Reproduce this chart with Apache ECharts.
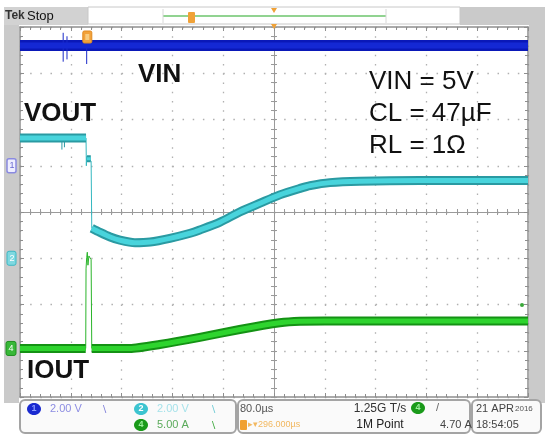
<!DOCTYPE html>
<html><head><meta charset="utf-8">
<script src="https://cdn.jsdelivr.net/npm/echarts@6/dist/echarts.min.js"></script>
<style>html,body{margin:0;padding:0;background:#fff}#c{width:545px;height:436px}</style>
</head><body><div id="c"></div>
<script>
// Channel settings: units per division and ground position (divisions from screen centre)
const CH1 = {scale: 2, pos: 1.0};    // VIN, 2 V/div
const CH2 = {scale: 2, pos: -1.0};   // VOUT, 2 V/div
const CH4 = {scale: 5, pos: -2.95};  // IOUT, 5 A/div
const timeMax = 800;                 // µs across 10 divisions
const timePerDiv = 80;
const triggerTime = 106;             // µs from left edge of screen
const triggerLevel = 4.7;            // A

// VIN (time µs, volts)
const vinTrace = [[0, 5.2], [800, 5.2]];
const vinSpikes = [[68, 5.75, 4.5], [74, 5.6, 4.6], [105, 5.3, 4.4]];  // [t, high, low]

// VOUT (time µs, volts)
const voutBefore = [[0, 5.2], [104, 5.2]];
const voutSpikes = [[66, 5.2, 4.7], [70, 5.2, 4.8]];
const voutBlip = [[105.5, 4.3], [111.5, 4.3]];
const voutEdge = [[104, 5.2], [104.5, 4.0], [105, 4.4], [112, 4.2], [113, 1.3]];
const voutAfter = [[113, 1.3], [126, 1.12], [142, 0.92], [157.5, 0.78], [181, 0.67], [205, 0.70],
  [236, 0.86], [268, 1.08], [283, 1.22], [315, 1.56], [346, 2.0], [378, 2.38], [409, 2.74],
  [441, 3.02], [457, 3.14], [488, 3.27], [535, 3.33], [630, 3.36], [800, 3.36]];

// IOUT (time µs, amps)
const ioutBefore = [[0, 0], [103.5, 0]];
const ioutSpike = [[103.5, 0], [104, 8.6], [105, 9.8], [106, 10.4], [107, 9.0], [108.5, 10.0], [112, 9.6], [113, 0]];
const ioutAfter = [[113, 0], [173, 0], [220, 0.43], [283, 1.19], [346, 2.05], [409, 2.78], [441, 2.95], [480, 2.97], [800, 2.97]];

// Text labels
const traceNames = ['VIN', 'VOUT', 'IOUT'];
const conditions = ['VIN = 5V', 'CL = 47µF', 'RL = 1Ω'];
const statusCh = ['2.00 V', '2.00 V', '5.00 A'];
const statusTime = ['80.0µs', '296.000µs'];
const statusRate = ['1.25G T/s', '1M Point'];
const statusTrig = ['/', '4.70 A'];
const statusDate = ['21 APR', '2016', '18:54:05'];

const toDiv = (pairs, ch) => pairs.map(([t, v]) => [t, v === '-' ? '-' : ch.pos + v / ch.scale]);
const spikesToPath = (list) => {
  const out = [];
  list.forEach(([t, hi, lo]) => { out.push([t, hi], [t, lo], [t, '-']); });
  return out;
};

const chart = echarts.init(document.getElementById('c'), null, {renderer: 'canvas'});
const GRID = {left: 20, top: 27, width: 508, height: 370};
const frameColor = '#8e8e8e';
const axisOff = {show: false};

function borderAxis(dim, position) {
  const isX = dim === 'x';
  return {
    gridIndex: 0, type: 'value', position,
    min: isX ? 0 : -4, max: isX ? timeMax : 4, interval: isX ? timePerDiv : 1,
    axisLine: {show: true, onZero: false, lineStyle: {color: frameColor, width: 1.5}},
    axisTick: {show: true, inside: true, length: 4, lineStyle: {color: frameColor}},
    minorTick: {show: true, splitNumber: 5, length: 3, lineStyle: {color: frameColor}},
    axisLabel: axisOff, splitLine: {show: false}
  };
}
function centreAxis(dim, gridIndex, inside) {
  const isX = dim === 'x';
  return {
    gridIndex, type: 'value', min: isX ? -5 : -4, max: isX ? 5 : 4, interval: 1,
    axisLine: {show: true, onZero: true, lineStyle: {color: '#9a9a9a', width: 1}},
    axisTick: {show: true, inside, length: 3, lineStyle: {color: '#9a9a9a'}},
    minorTick: {show: true, splitNumber: 5, length: 3, lineStyle: {color: '#9a9a9a'}},
    axisLabel: axisOff, splitLine: {show: false}
  };
}

const xBottom = borderAxis('x', 'bottom');
xBottom.splitLine = {show: true, lineStyle: {color: '#b0b0b0', width: 1.3, type: [1.5, 7.75]}};
const yLeft = borderAxis('y', 'left');
yLeft.splitLine = {show: true, lineStyle: {color: '#b0b0b0', width: 1.3, type: [1.5, 8.66]}};

function band(data, under, over, wUnder, wOver, z, smooth) {
  const common = {type: 'line', data, xAxisIndex: 0, yAxisIndex: 0, symbol: 'none', smooth: smooth || false, silent: true};
  return [
    Object.assign({}, common, {lineStyle: {color: under, width: wUnder, cap: 'butt', join: 'round'}, z}),
    Object.assign({}, common, {lineStyle: {color: over, width: wOver, cap: 'butt', join: 'round'}, z: z + 0.1})
  ];
}
function thin(data, color, z) {
  return {type: 'line', data, xAxisIndex: 0, yAxisIndex: 0, symbol: 'none', connectNulls: false,
    lineStyle: {color, width: 1}, z, silent: true};
}

const series = [
  ...band(toDiv(vinTrace, CH1), '#0a18b8', '#1428d4', 11, 6, 3),
  thin(toDiv(spikesToPath(vinSpikes), CH1), '#1a2ac8', 3),
  thin(toDiv(spikesToPath(voutSpikes), CH2), '#2a9ca4', 4),
  thin(toDiv(voutEdge, CH2), '#35b8c0', 4),
  ...band(toDiv(voutBefore, CH2), '#2a9aa2', '#48d4dc', 9, 5, 4),
  ...band(toDiv(voutBlip, CH2), '#2a9aa2', '#48d4dc', 7, 3, 4),
  ...band(toDiv(voutAfter, CH2), '#2a9aa2', '#48d4dc', 9, 5, 4, 0.25),
  thin(toDiv(ioutSpike, CH4), '#2bb52b', 5),
  ...band(toDiv(ioutBefore, CH4), '#149214', '#2ed42e', 9, 5, 5),
  ...band(toDiv(ioutAfter, CH4), '#149214', '#2ed42e', 9, 5, 5, 0.2)
];

chart.setOption({
  animation: false,
  backgroundColor: '#ffffff',
  grid: [GRID, GRID, GRID],
  xAxis: [xBottom, borderAxis('x', 'top'), centreAxis('x', 1, true), centreAxis('x', 2, false)],
  yAxis: [yLeft, borderAxis('y', 'right'), centreAxis('y', 1, true), centreAxis('y', 2, false)],
  series
});

// Decorations of the scope screen, placed from the data coordinate system where they mark a value
const px = (t, d) => chart.convertToPixel({xAxisIndex: 0, yAxisIndex: 0}, [t, d]);
const FONT = '"Liberation Sans", Arial, sans-serif';
const NARROW = '"Liberation Sans Narrow", "Liberation Sans", Arial, sans-serif';
const g = [];
const rect = (x, y, w, h, fill, stroke, lw, r, z) => g.push({type: 'rect', shape: {x, y, width: w, height: h, r: r || 0},
  style: {fill, stroke: stroke || null, lineWidth: lw || 0}, z: z == null ? -1 : z, silent: true});
const text = (x, y, s, size, color, opts) => g.push({type: 'text', x, y, z: 50, silent: true,
  style: Object.assign({text: s, fontSize: size, fill: color, fontFamily: FONT, verticalAlign: 'middle', align: 'left'}, opts || {})});

// side and top panels
rect(4, 25, 15, 378, '#cacaca');
rect(529, 8, 16, 395, '#cacaca');
rect(4, 7, 84, 18, '#d2d2d2');
rect(460, 7, 85, 18, '#cacaca');
rect(88, 7, 372, 17, '#ffffff', '#c8c8c8', 1, 0, 0);
g.push({type: 'line', shape: {x1: 163, y1: 16, x2: 386, y2: 16}, style: {stroke: '#6cc46c', lineWidth: 1.5}, z: 1});
g.push({type: 'line', shape: {x1: 163, y1: 9, x2: 163, y2: 23}, style: {stroke: '#d8d8d8', lineWidth: 1}, z: 1});
g.push({type: 'line', shape: {x1: 386, y1: 9, x2: 386, y2: 23}, style: {stroke: '#d8d8d8', lineWidth: 1}, z: 1});
rect(188, 12, 7, 11, '#f0a238', null, 0, 1, 2);
text(5, 16, 'Tek', 12, '#333', {fontWeight: 'bold', fontFamily: NARROW});
text(27, 16, 'Stop', 13, '#111');

// time reference markers
const cx = px(400, 0)[0];
g.push({type: 'polygon', shape: {points: [[cx - 3, 8], [cx + 3, 8], [cx, 13]]}, style: {fill: '#f0a238'}, z: 3});
g.push({type: 'polygon', shape: {points: [[cx - 3, 24], [cx + 3, 24], [cx, 29]]}, style: {fill: '#f0a238'}, z: 3});
const tx = px(triggerTime, 0)[0];
rect(tx - 4.5, 31, 9, 12, '#f2a23a', '#e08a20', 1, 1.5, 20);
rect(tx - 2, 34, 4, 6, '#f8cc80', null, 0, 0, 21);

// channel ground markers
const m1 = px(0, CH1.pos)[1], m2 = px(0, CH2.pos)[1], m4 = px(0, CH4.pos)[1];
rect(7, m1 - 7, 9, 14, '#eeeeff', '#8a8ae0', 1.5, 2, 5);
text(9.5, m1, '1', 9, '#6a6ad0');
rect(7, m2 - 7, 9, 14, '#7fd8e0', '#3cb8c4', 1, 2, 5);
text(9.5, m2, '2', 9, '#ffffff');
rect(6, m4 - 7, 10, 14, '#38b838', '#1e8e1e', 1, 2, 5);
text(8.5, m4, '4', 9, '#ffffff');
// trigger level marker (CH4)
const tl = px(800, CH4.pos + triggerLevel / CH4.scale);
g.push({type: 'circle', shape: {cx: tl[0] - 6, cy: tl[1], r: 2}, style: {fill: '#3aa83a'}, z: 20});

// trace names and test conditions
text(138, 75, traceNames[0], 26, '#111', {fontWeight: 'bold'});
text(24, 114, traceNames[1], 26, '#111', {fontWeight: 'bold'});
text(27, 371, traceNames[2], 26, '#111', {fontWeight: 'bold'});
conditions.forEach((s, i) => text(369, 82 + i * 32, s, 26, '#111'));

// status bar
rect(20, 400, 216, 33, '#fafafa', '#a4a4a4', 2, 5, 0);
rect(238, 400, 232, 33, '#fafafa', '#a4a4a4', 2, 5, 0);
rect(472, 400, 69, 33, '#fafafa', '#a4a4a4', 2, 5, 0);
const badge = (x, y, n, fill, color) => {
  g.push({type: 'ellipse', shape: {cx: x, cy: y, rx: 7, ry: 6}, style: {fill}, z: 10});
  text(x, y, n, 9, color, {align: 'center', fontWeight: 'bold'});
};
badge(34, 409, '1', '#1a2ad0', '#8d9cff');
text(50, 409, statusCh[0], 11, '#8c8ce2', {fontFamily: NARROW});
text(101, 409, '∖', 10, '#7c7cd8');
badge(141, 409, '2', '#3cc4d0', '#ffffff');
text(157, 409, statusCh[1], 11, '#a6e2ea', {fontFamily: NARROW});
text(210, 409, '∖', 10, '#6ccad4');
badge(141, 425, '4', '#1a9a1a', '#9cf09c');
text(157, 425, statusCh[2], 11, '#5aaa5a', {fontFamily: NARROW});
text(210, 425, '∖', 10, '#3aa83a');
text(240, 409, statusTime[0], 11, '#555', {fontFamily: NARROW});
rect(240, 420, 7, 10, '#f0a030', null, 0, 1, 10);
text(248, 425, '▸▾' + statusTime[1], 9, '#f2b860', {fontFamily: NARROW});
text(380, 409, statusRate[0], 12, '#333', {align: 'center', fontFamily: NARROW});
text(380, 425, statusRate[1], 12, '#222', {align: 'center'});
badge(418, 408, '4', '#1a9a1a', '#9cf09c');
text(436, 408, statusTrig[0], 11, '#666');
text(440, 425, statusTrig[1], 11, '#444', {fontFamily: NARROW});
text(476, 409, statusDate[0], 11, '#444', {fontFamily: NARROW});
text(515, 409, statusDate[1], 8, '#555', {fontFamily: NARROW});
text(476, 425, statusDate[2], 11, '#444', {fontFamily: NARROW});

chart.setOption({graphic: g});
</script></body></html>
